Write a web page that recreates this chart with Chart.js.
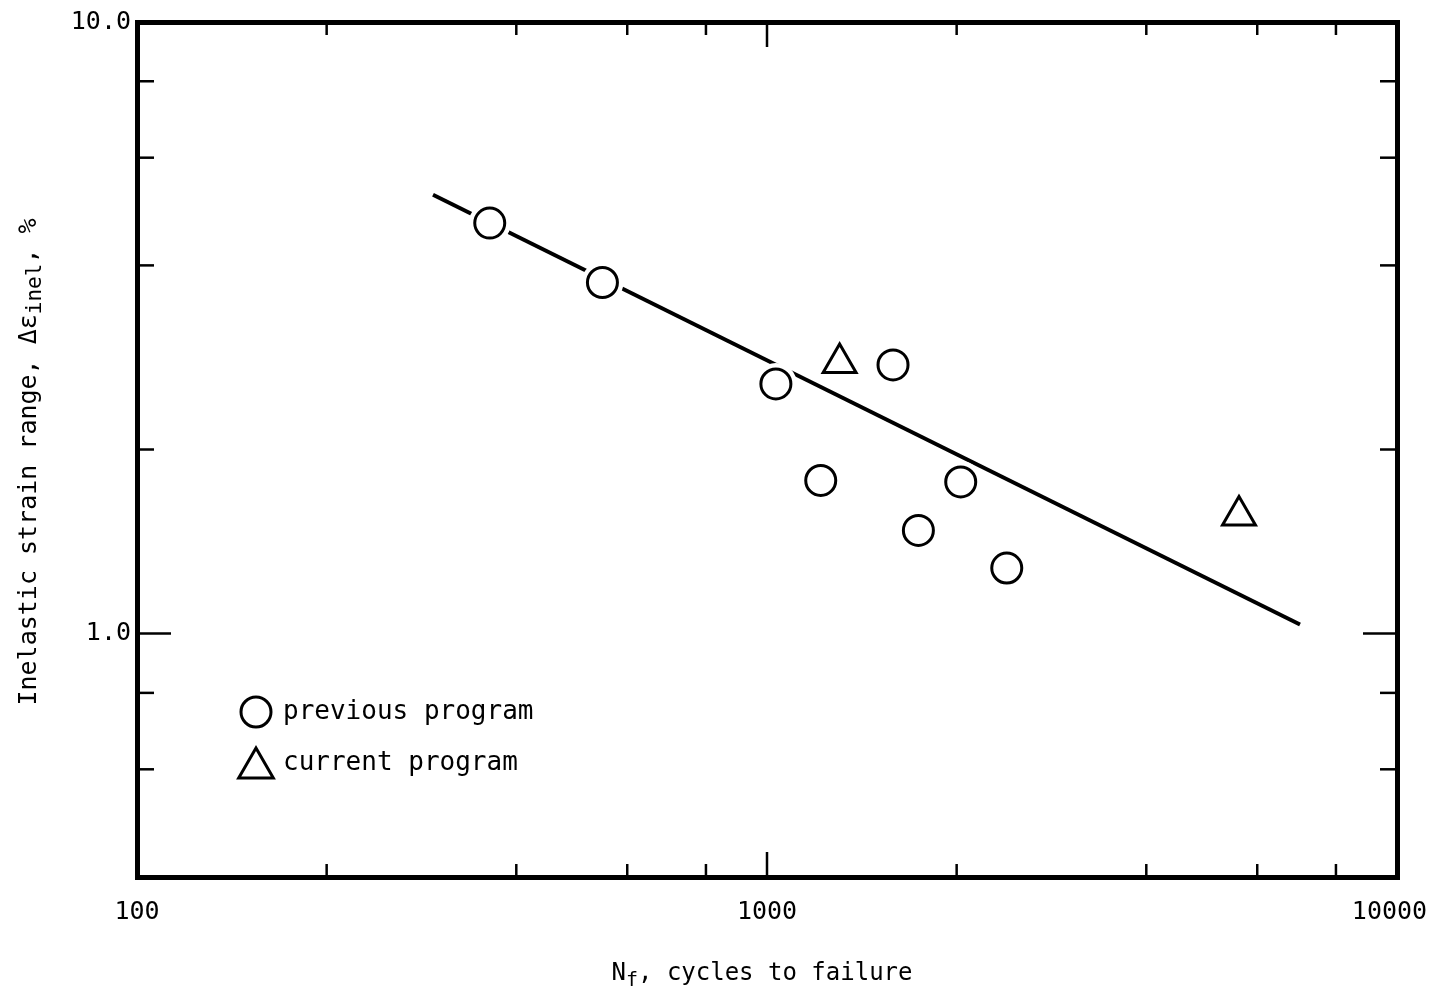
<!DOCTYPE html>
<html>
<head>
<meta charset="utf-8">
<script src="https://cdn.jsdelivr.net/npm/chart.js@4/dist/chart.umd.min.js"></script>
<style>
  html, body { margin: 0; padding: 0; background: #ffffff; }
  #wrap { width: 1431px; height: 997px; }
  canvas { display: block; }
</style>
</head>
<body>
<div id="wrap"><canvas id="c" width="1431" height="997"></canvas></div>
<script>
// ---- data ----
const previousCycles = [363, 548, 1033, 1585, 1217, 2030, 1739, 2402];
const previousStrain = [4.69, 3.75, 2.56, 2.75, 1.78, 1.77, 1.475, 1.28];
const currentCycles = [1304, 5613];
const currentStrain = [2.77, 1.56];
const fitCycles = [295, 7015];
const fitStrain = [5.22, 1.035];
const seriesNames = ['previous program', 'current program'];

const xTickValues = [100, 200, 400, 600, 800, 1000, 2000, 4000, 6000, 8000, 10000];
const xTickLabels = ['100', '', '', '', '', '1000', '', '', '', '', '10000'];
const yTickValues = [0.4, 0.6, 0.8, 1, 2, 4, 6, 8, 10];
const yTickLabels = ['', '', '', '1.0', '', '', '', '', '10.0'];

const xTitleParts = [['N', false], ['f', true], [', cycles to failure', false]];
const yTitleParts = [['Inelastic strain range, \u0394\u03b5', false], ['inel', true], [', %', false]];

const FONT = '"DejaVu Sans Mono", "Liberation Mono", monospace';

const toPoints = (xs, ys) => xs.map((x, i) => ({ x: x, y: ys[i] }));

// inward tick marks on all four sides, placed through the chart scales
const inwardTicks = {
  id: 'inwardTicks',
  afterDraw(chart) {
    const { ctx, chartArea: a, scales } = chart;
    ctx.save();
    ctx.strokeStyle = '#000';
    ctx.lineWidth = 2.5;
    const seg = (x1, y1, x2, y2) => { ctx.beginPath(); ctx.moveTo(x1, y1); ctx.lineTo(x2, y2); ctx.stroke(); };
    xTickValues.forEach((v, i) => {
      const len = xTickLabels[i] ? 25 : 13;
      const px = scales.x.getPixelForValue(v);
      seg(px, a.bottom, px, a.bottom - len);
      seg(px, a.top, px, a.top + len);
    });
    yTickValues.forEach((v, i) => {
      const len = yTickLabels[i] ? 34 : 17;
      const py = scales.y.getPixelForValue(v);
      seg(a.left, py, a.left + len, py);
      seg(a.right, py, a.right - len, py);
    });
    ctx.restore();
  }
};

function drawParts(ctx, parts, size) {
  ctx.textBaseline = 'alphabetic';
  let w = 0;
  parts.forEach(([t, sub]) => {
    ctx.font = (sub ? Math.round(size * 0.85) : size) + 'px ' + FONT;
    w += ctx.measureText(t).width;
  });
  let x = -w / 2;
  parts.forEach(([t, sub]) => {
    ctx.font = (sub ? Math.round(size * 0.85) : size) + 'px ' + FONT;
    ctx.fillText(t, x, sub ? size * 0.35 + size * 0.22 : size * 0.35);
    x += ctx.measureText(t).width;
  });
}

// axis titles with subscripts
const axisTitles = {
  id: 'axisTitles',
  afterDraw(chart) {
    const { ctx } = chart;
    ctx.save();
    ctx.fillStyle = '#000';
    ctx.translate(762, 972);
    drawParts(ctx, xTitleParts, 24);
    ctx.restore();
    ctx.save();
    ctx.fillStyle = '#000';
    ctx.translate(27, 462);
    ctx.rotate(-Math.PI / 2);
    drawParts(ctx, yTitleParts, 25);
    ctx.restore();
  }
};

// legend inside the plot, lower left
const innerLegend = {
  id: 'innerLegend',
  afterDraw(chart) {
    const { ctx } = chart;
    const rows = [
      { name: seriesNames[0], style: 'circle', r: 15, y: 712 },
      { name: seriesNames[1], style: 'triangle', r: 20, y: 763 }
    ];
    ctx.save();
    ctx.strokeStyle = '#000';
    ctx.lineWidth = 3;
    rows.forEach(row => {
      const cx = 256;
      ctx.beginPath();
      if (row.style === 'circle') {
        ctx.arc(cx, row.y, row.r, 0, Math.PI * 2);
      } else {
        const cy = row.y + 5;
        ctx.moveTo(cx, cy - row.r);
        ctx.lineTo(cx + row.r * Math.sin(Math.PI * 2 / 3), cy + row.r / 2);
        ctx.lineTo(cx - row.r * Math.sin(Math.PI * 2 / 3), cy + row.r / 2);
        ctx.closePath();
      }
      ctx.fillStyle = '#fff';
      ctx.fill();
      ctx.stroke();
      ctx.fillStyle = '#000';
      ctx.font = '26px ' + FONT;
      ctx.textBaseline = 'middle';
      ctx.textAlign = 'left';
      ctx.fillText(row.name, 283, row.y);
    });
    ctx.restore();
  }
};

const tickFont = { family: FONT, size: 25 };
const noPad = s => { s.paddingLeft = 0; s.paddingRight = 0; s.paddingTop = 0; s.paddingBottom = 0; };
// the last label sits left of its tick in the reference, so pad it on the right
const xLabelFor = i => (i === xTickLabels.length - 1 && xTickLabels[i]) ? xTickLabels[i] + ' ' : xTickLabels[i];

new Chart(document.getElementById('c'), {
  type: 'scatter',
  data: {
    datasets: [
      {
        label: 'fit',
        data: toPoints(fitCycles, fitStrain),
        showLine: true,
        borderColor: '#000',
        borderWidth: 4,
        pointRadius: 0,
        fill: false,
        order: 4
      },
      {
        label: 'halo',
        data: toPoints(previousCycles, previousStrain),
        pointStyle: 'circle',
        pointRadius: 21,
        backgroundColor: '#fff',
        borderColor: '#fff',
        borderWidth: 0,
        order: 3
      },
      {
        label: seriesNames[0],
        data: toPoints(previousCycles, previousStrain),
        pointStyle: 'circle',
        pointRadius: 15,
        backgroundColor: '#fff',
        borderColor: '#000',
        borderWidth: 3,
        order: 1
      },
      {
        label: seriesNames[1],
        data: toPoints(currentCycles, currentStrain),
        pointStyle: 'triangle',
        pointRadius: 19,
        backgroundColor: '#fff',
        borderColor: '#000',
        borderWidth: 3,
        order: 2
      }
    ]
  },
  options: {
    responsive: false,
    animation: false,
    events: [],
    layout: { padding: 0 },
    plugins: { legend: { display: false }, tooltip: { enabled: false }, title: { display: false } },
    scales: {
      x: {
        type: 'logarithmic',
        position: 'bottom',
        min: 100,
        max: 10000,
        afterBuildTicks: s => { s.ticks = xTickValues.map(v => ({ value: v })); },
        afterFit: s => { s.height = 120; noPad(s); },
        ticks: {
          autoSkip: false, maxRotation: 0, minRotation: 0, padding: 20,
          font: tickFont, color: '#000',
          callback: (v, i) => xLabelFor(i)
        },
        grid: { drawOnChartArea: false, drawTicks: false, lineWidth: 5, color: '#000' },
        border: { display: true, width: 5, color: '#000' }
      },
      x2: {
        type: 'logarithmic',
        position: 'top',
        min: 100,
        max: 10000,
        afterBuildTicks: s => { s.ticks = xTickValues.map(v => ({ value: v })); },
        afterFit: s => { s.height = 22; noPad(s); },
        ticks: { display: false },
        grid: { drawOnChartArea: false, drawTicks: false, lineWidth: 5, color: '#000' },
        border: { display: true, width: 5, color: '#000' }
      },
      y: {
        type: 'logarithmic',
        position: 'left',
        min: 0.4,
        max: 10,
        afterBuildTicks: s => { s.ticks = yTickValues.map(v => ({ value: v })); },
        afterFit: s => { s.width = 137; noPad(s); },
        ticks: {
          autoSkip: false, padding: 6,
          font: tickFont, color: '#000',
          callback: (v, i) => yTickLabels[i]
        },
        grid: { drawOnChartArea: false, drawTicks: false, lineWidth: 5, color: '#000' },
        border: { display: true, width: 5, color: '#000' }
      },
      y2: {
        type: 'logarithmic',
        position: 'right',
        min: 0.4,
        max: 10,
        afterBuildTicks: s => { s.ticks = yTickValues.map(v => ({ value: v })); },
        afterFit: s => { s.width = 34; noPad(s); },
        ticks: { display: false },
        grid: { drawOnChartArea: false, drawTicks: false, lineWidth: 5, color: '#000' },
        border: { display: true, width: 5, color: '#000' }
      }
    }
  },
  plugins: [inwardTicks, axisTitles, innerLegend]
});
</script>
</body>
</html>
